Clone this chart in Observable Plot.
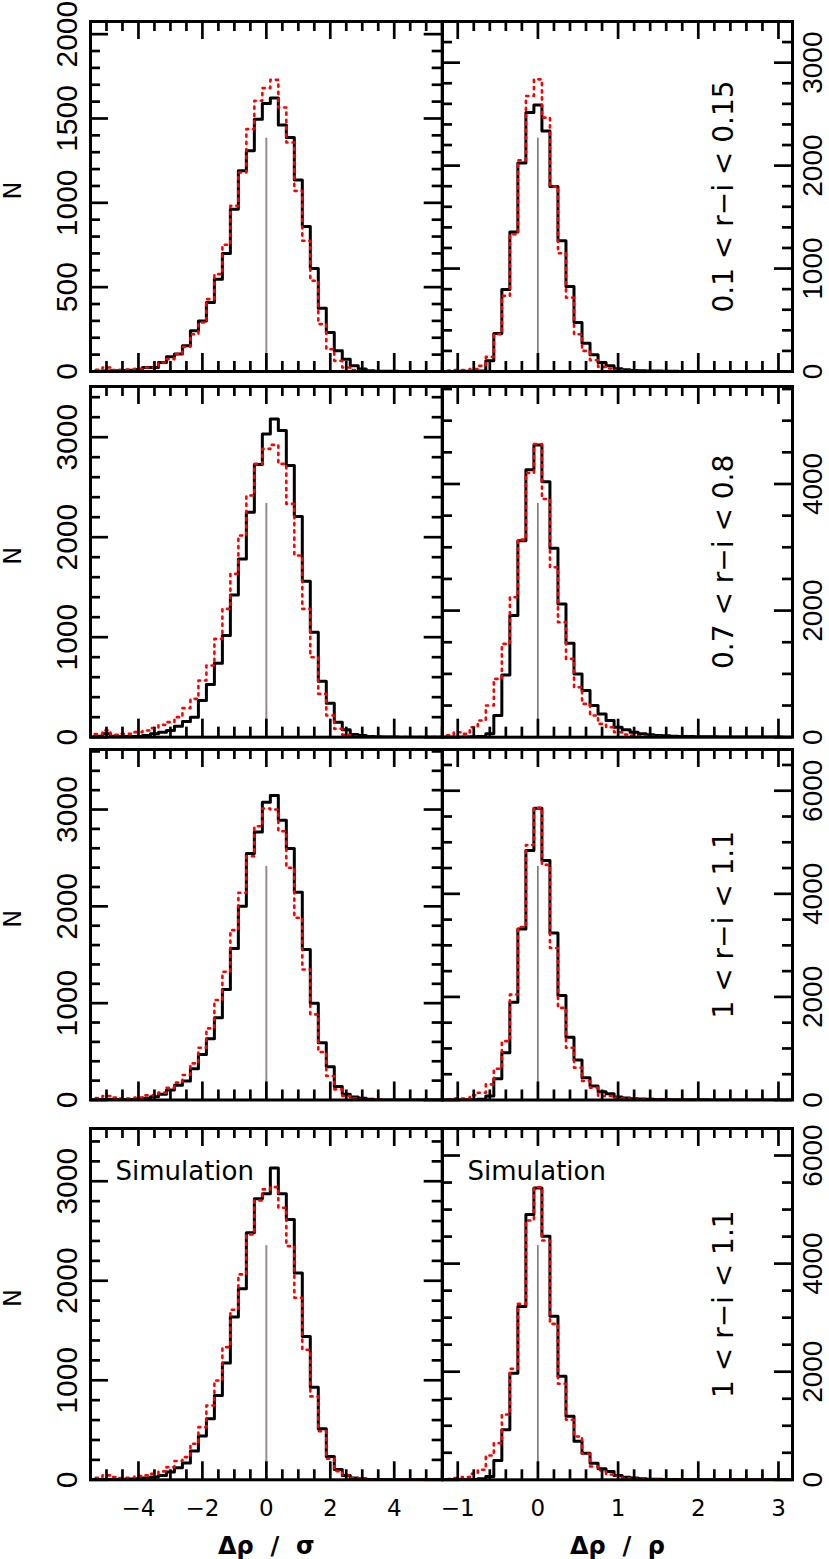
<!DOCTYPE html>
<html><head><meta charset="utf-8">
<script src="https://cdn.jsdelivr.net/npm/d3@7"></script>
<script src="https://cdn.jsdelivr.net/npm/@observablehq/plot@0.6"></script>
<style>
body{margin:0;background:#fff;}
#chart{position:relative;width:829px;height:1559px;overflow:hidden;background:#fff;}
</style></head><body><div id="chart"></div>
<script>
// ---------- data ----------
const binsSigma = [-5.5,-5.25,-5,-4.75,-4.5,-4.25,-4,-3.75,-3.5,-3.25,-3,-2.75,-2.5,-2.25,-2,-1.75,-1.5,-1.25,-1,-0.75,-0.5,-0.25,0,0.25,0.5,0.75,1,1.25,1.5,1.75,2,2.25,2.5,2.75,3,3.25,3.5,3.75,4,4.25,4.5,4.75,5,5.25,5.5];
const binsRho = [-1.2,-1.1,-1,-0.9,-0.8,-0.7,-0.6,-0.5,-0.4,-0.3,-0.2,-0.1,0,0.1,0.2,0.3,0.4,0.5,0.6,0.7,0.8,0.9,1,1.1,1.2,1.3,1.4,1.5,1.6,1.7,1.8,1.9,2,2.1,2.2,2.3,2.4,2.5,2.6,2.7,2.8,2.9,3,3.1,3.2];

const rowLabels = ["0.1 < r\u2212i < 0.15", "0.7 < r\u2212i < 0.8", "1 < r\u2212i < 1.1", "1 < r\u2212i < 1.1"];
const cornerLabels = ["", "", "", "Simulation"];
const xTitles = ["\u0394\u03c1  /  \u03c3", "\u0394\u03c1  /  \u03c1"];

// black (solid) and red (dotted) histograms, Δρ/σ column
const sigmaBlack1 = [0,2,3,4,6,8,12,24,24,53,87,103,152,241,300,409,547,700,962,1190,1308,1496,1589,1621,1462,1387,1136,860,611,375,231,123,73,34,14,4,2,1,1,0,0,0,0,0,0];
const sigmaRed1   = [0,10,24,8,10,12,16,24,24,53,73,103,146,221,290,429,577,751,982,1180,1437,1605,1680,1729,1565,1358,1071,775,538,281,132,63,24,8,4,2,1,0,0,0,0,0,0,0,0];
const sigmaBlack2 = [0,10,35,10,7,7,7,17,33,50,67,110,157,200,367,527,740,1017,1423,1783,2250,2727,3033,3183,3067,2717,2207,1560,1050,560,340,150,73,27,17,7,3,2,1,0,0,0,0,0,0];
const sigmaRed2   = [0,30,67,23,33,33,50,67,90,123,150,200,290,383,567,717,983,1283,1633,2017,2417,2733,2883,2923,2733,2333,1817,1283,800,433,217,83,23,7,3,1,0,0,0,0,0,0,0,0,0];
const sigmaBlack3 = [0,3,5,5,5,6,7,17,34,58,103,151,196,323,471,633,850,1142,1565,2002,2546,2769,3075,3144,2890,2597,2146,1555,998,592,344,138,58,31,17,7,3,1,0,0,0,0,0,0,0];
const sigmaRed3   = [0,20,41,24,14,14,24,48,48,76,127,179,258,378,540,740,1032,1324,1754,2140,2518,2828,3010,3000,2776,2398,1882,1348,884,495,248,110,41,17,7,3,1,0,0,0,0,0,0,0,0];
const sigmaBlack4 = [0,2,3,3,5,7,10,17,27,44,77,121,168,288,439,613,848,1173,1635,1920,2482,2824,2874,3132,2874,2616,2077,1441,931,513,235,104,44,17,10,3,2,1,0,0,0,0,0,0,0];
const sigmaRed4   = [0,20,44,27,17,20,37,44,60,84,127,188,228,362,529,747,998,1333,1709,2064,2466,2807,2918,2941,2734,2348,1829,1307,838,489,211,87,44,17,7,3,1,0,0,0,0,0,0,0,0];

// Δρ/ρ column
const rhoBlack1 = [0,0,2,3,4,6,104,369,796,1356,2026,2515,2589,2337,1796,1269,825,476,275,162,87,55,26,16,10,8,6,4,3,2,1,1,1,0,0,0,0,0,0,0,0,0,0,0,0];
const rhoRed1   = [0,10,13,13,23,55,142,362,735,1333,2052,2676,2838,2466,1796,1149,718,362,200,110,45,29,13,8,5,3,2,1,0,0,0,0,0,0,0,0,0,0,0,0,0,0,0,0,0];
const rhoBlack2 = [0,0,0,2,5,10,53,342,984,1921,3105,4226,4616,4037,2984,2105,1484,1000,737,500,368,263,158,116,79,53,37,26,21,16,12,10,8,6,5,4,3,3,2,2,1,1,1,0,0];
const rhoRed2   = [0,30,79,53,158,263,500,921,1474,2210,3121,4174,4632,3763,2684,1816,1237,789,526,342,210,158,79,42,26,16,10,8,5,3,2,1,0,0,0,0,0,0,0,0,0,0,0,0,0];
const rhoBlack3 = [0,0,0,3,6,13,77,413,916,1897,3316,4839,5658,4645,3239,2026,1219,774,432,271,161,123,58,39,26,19,13,10,8,6,5,4,3,3,2,2,1,1,1,1,0,0,0,0,0];
const rhoRed3   = [0,13,26,26,90,142,303,606,1142,2045,3355,4948,5671,4561,2948,1787,1013,626,368,239,77,77,45,26,13,8,5,3,2,1,0,0,0,0,0,0,0,0,0,0,0,0,0,0,0];
const rhoBlack4 = [0,0,0,2,5,18,62,358,925,1973,3206,4908,5401,4507,3027,1917,1178,715,493,308,203,154,80,49,31,18,12,9,6,5,4,3,2,2,1,1,1,0,0,0,0,0,0,0,0];
const rhoRed4   = [0,15,31,49,111,185,450,678,1208,2053,3255,4797,5413,4427,2885,1776,1110,801,481,247,173,99,74,31,18,10,6,4,2,1,0,0,0,0,0,0,0,0,0,0,0,0,0,0,0];

// y-axis extents and the thin reference line at zero
const yMaxSigma = [2075, 3507, 3620, 3530];
const yMaxRho   = [3400, 5540, 6800, 6500];
const refTopSigma = [1383, 2338, 2413, 2353];
const refTopRho   = [2267, 3693, 4533, 4333];

// tick labels
const xTicksSigma = [-4, -2, 0, 2, 4];
const xTicksRho   = [-1, 0, 1, 2, 3];
const yLabelsSigma = [[0,500,1000,1500,2000],[0,1000,2000,3000],[0,1000,2000,3000],[0,1000,2000,3000]];
const yLabelsRho   = [[0,1000,2000,3000],[0,2000,4000],[0,2000,4000,6000],[0,2000,4000,6000]];
const yStepSigma = [[500,100],[1000,200],[1000,200],[1000,200]];
const yStepRho   = [[1000,200],[2000,500],[2000,500],[2000,500]];

const blackSigma = [sigmaBlack1, sigmaBlack2, sigmaBlack3, sigmaBlack4];
const redSigma   = [sigmaRed1, sigmaRed2, sigmaRed3, sigmaRed4];
const blackRho   = [rhoBlack1, rhoBlack2, rhoBlack3, rhoBlack4];
const redRho     = [rhoRed1, rhoRed2, rhoRed3, rhoRed4];

// ---------- layout ----------
const layout = {
  rowTop:    [20.7, 386, 748.7, 1128],
  rowBottom: [370.7, 736.7, 1099.2, 1479.3],
  colLeft:   [90, 441.7],
  colRight:  [441.7, 791.7],
  xDomain:   [[-5.5, 5.5], [-1.19, 3.175]],
  xMinorStep:[0.5, 0.2]
};
const LABEL_FONT = "'Liberation Sans', Arial, Helvetica, sans-serif";
const TEXT_FONT = "'DejaVu Sans', Verdana, sans-serif";
const plainNum = d => (d < 0 ? "\u2212" + String(-d) : String(d));

function between(lo, hi, step) {
  const out = [];
  for (let v = lo; v <= hi + 1e-9; v += step) out.push(+v.toFixed(6));
  return out;
}

function panel(row, col) {
  const x0 = layout.colLeft[col], x1 = layout.colRight[col];
  const y0 = layout.rowTop[row], y1 = layout.rowBottom[row];
  const w = x1 - x0, h = y1 - y0;
  const xDomain = layout.xDomain[col];
  const bins = col === 0 ? binsSigma : binsRho;
  const black = col === 0 ? blackSigma[row] : blackRho[row];
  const red = col === 0 ? redSigma[row] : redRho[row];
  const yMax = col === 0 ? yMaxSigma[row] : yMaxRho[row];
  const refTop = col === 0 ? refTopSigma[row] : refTopRho[row];
  const xMajor = col === 0 ? xTicksSigma : xTicksRho;
  const st = layout.xMinorStep[col];
  const xMinor = between(Math.ceil(xDomain[0] / st) * st, xDomain[1], st)
    .filter(v => !xMajor.some(m => Math.abs(m - v) < 1e-6));
  const [yMajStep, yMinStep] = col === 0 ? yStepSigma[row] : yStepRho[row];
  const yMajor = between(0, yMax, yMajStep);
  const yMinor = between(0, yMax, yMinStep).filter(v => v % yMajStep !== 0);
  const yLabels = col === 0 ? yLabelsSigma[row] : yLabelsRho[row];
  const side = col === 0 ? "left" : "right";
  const MAJ = 18, MIN = 10;
  const tk = {stroke: "black", strokeWidth: 2.7};

  const marks = [
    Plot.ruleX([0], {y1: 0, y2: refTop, stroke: col === 0 ? "#9a8a8a" : "#222", strokeWidth: col === 0 ? 2 : 1}),
    Plot.lineY(black, {x: bins, curve: "step", stroke: "black", strokeWidth: 3, clip: true}),
    Plot.lineY(red, {x: bins, curve: "step", stroke: "#ff0000", strokeWidth: 2.6, strokeDasharray: "2.2,5", clip: true}),
    // ticks on all four sides, pointing inward
    Plot.tickX(xMajor, {insetTop: h - MAJ, ...tk}),
    Plot.tickX(xMajor, {insetBottom: h - MAJ, ...tk}),
    Plot.tickX(xMinor, {insetTop: h - MIN, ...tk}),
    Plot.tickX(xMinor, {insetBottom: h - MIN, ...tk}),
    Plot.tickY(yMajor, {insetRight: w - MAJ, ...tk}),
    Plot.tickY(yMajor, {insetLeft: w - MAJ, ...tk}),
    Plot.tickY(yMinor, {insetRight: w - MIN, ...tk}),
    Plot.tickY(yMinor, {insetLeft: w - MIN, ...tk}),
    Plot.frame({stroke: "black", strokeWidth: 3}),
    Plot.axisY(yLabels, {
      anchor: side, tickSize: 0, tickRotate: -90,
      tickPadding: side === "left" ? 14 : 10,
      lineAnchor: side === "left" ? "bottom" : "top",
      tickFormat: plainNum,
      fontSize: side === "left" ? 30 : 28, fontFamily: LABEL_FONT, label: null
    })
  ];
  if (col === 1) {
    marks.push(Plot.text([rowLabels[row]], {
      frameAnchor: "right", rotate: -90, dx: -68, textAnchor: "middle", lineAnchor: "middle",
      fontSize: 28, fontFamily: TEXT_FONT
    }));
  } else {
    marks.push(Plot.text(["N"], {
      frameAnchor: "left", rotate: -90, dx: -77, dy: -6, textAnchor: "middle", lineAnchor: "middle",
      fontSize: 24, fontFamily: TEXT_FONT
    }));
  }
  if (cornerLabels[row]) {
    marks.push(Plot.text([cornerLabels[row]], {
      frameAnchor: "top-left", textAnchor: "start", lineAnchor: "top", dx: 25, dy: 33,
      fontSize: 26, fontFamily: TEXT_FONT
    }));
  }
  if (row === 3) {
    marks.push(Plot.axisX(xMajor, {
      anchor: "bottom", tickSize: 0, tickPadding: 20, tickFormat: plainNum,
      fontSize: 23, fontFamily: TEXT_FONT, label: null
    }));
    marks.push(Plot.text([xTitles[col]], {
      frameAnchor: "bottom", dy: 74, lineAnchor: "bottom", fontSize: 24, fontWeight: "bold", fontFamily: TEXT_FONT
    }));
  }

  return Plot.plot({
    width: w, height: h,
    marginTop: 0, marginRight: 0, marginBottom: 0, marginLeft: 0,
    x: {domain: xDomain, axis: null},
    y: {domain: [0, yMax], axis: null},
    style: {position: "absolute", left: x0 + "px", top: y0 + "px", overflow: "visible", background: "transparent", maxWidth: "none"},
    marks
  });
}

const chart = document.getElementById("chart");
for (let r = 0; r < 4; r++) {
  for (let c = 0; c < 2; c++) {
    chart.appendChild(panel(r, c));
  }
}
</script></body></html>
